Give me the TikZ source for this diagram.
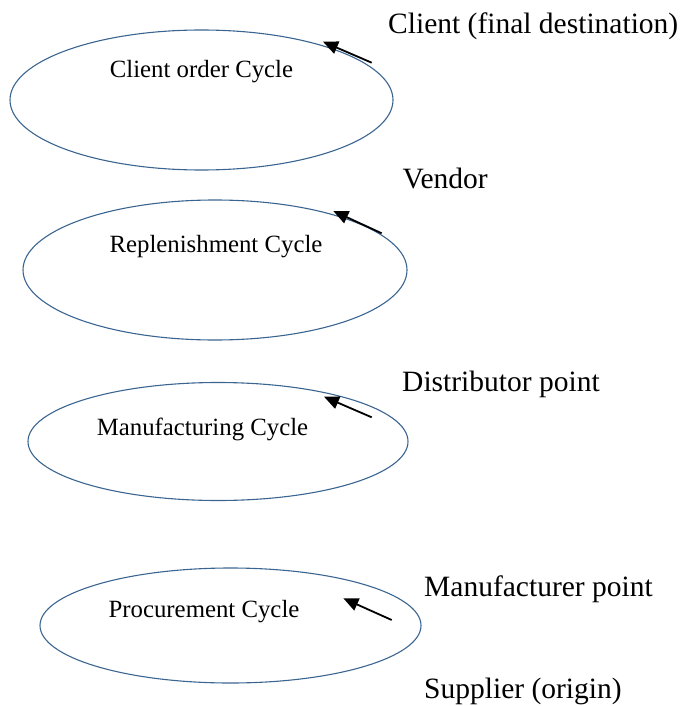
\documentclass[tikz,border=0pt]{standalone}
\usepackage{fontspec}
\setmainfont{Liberation Serif}
\usetikzlibrary{shapes.geometric,arrows.meta}
\definecolor{ringblue}{HTML}{3A6591}
\tikzset{
  cycle/.style={ellipse, draw=ringblue, line width=1.1pt, inner sep=0pt},
  cyclename/.style={anchor=base, inner sep=0pt, font=\fontsize{24.8}{30}\selectfont},
  site/.style={anchor=base west, inner sep=0pt, font=\fontsize{29.5}{35}\selectfont},
  flow/.style={line width=1.8pt, -{Triangle[length=15pt,width=13pt]}}
}
\begin{document}
\begin{tikzpicture}[x=1pt,y=-1pt]
\useasboundingbox (0,0) rectangle (681,706);

% the four cycles
\node[cycle, minimum width=383pt, minimum height=140pt] (c1) at (201.5,100) {};
\node[cycle, minimum width=384pt, minimum height=140pt] (c2) at (215,270) {};
\node[cycle, minimum width=380pt, minimum height=118pt] (c3) at (218,441.5) {};
\node[cycle, minimum width=381pt, minimum height=115pt] (c4) at (230.5,625.5) {};

\node[cyclename] (t1) at (201.5,78) {Client order Cycle};
\node[cyclename] (t2) at (216,252.7) {Replenishment Cycle};
\node[cyclename] (t3) at (202.5,435) {Manufacturing Cycle};
\node[cyclename] (t4) at (204,617.7) {Procurement Cycle};

% stages of the chain
\node[site] (s1) at (388,33.3) {Client (final destination)};
\node[site] (s2) at (402.3,188.3) {Vendor};
\node[site] (s3) at (402,391.7) {Distributor point};
\node[site] (s4) at (424,596.7) {Manufacturer point};
\node[site] (s5) at (424,698) {Supplier (origin)};

% direction of each cycle
\coordinate (a1s) at (371.7,62.7);  \coordinate (a1e) at (323,41.7);
\coordinate (a2s) at (381.7,233.3); \coordinate (a2e) at (333.3,211);
\coordinate (a3s) at (371.7,417.3); \coordinate (a3e) at (324,396.7);
\coordinate (a4s) at (391.7,620);   \coordinate (a4e) at (343.3,598.3);
\draw[flow] (a1s) -- (a1e);
\draw[flow] (a2s) -- (a2e);
\draw[flow] (a3s) -- (a3e);
\draw[flow] (a4s) -- (a4e);
\end{tikzpicture}
\end{document}
